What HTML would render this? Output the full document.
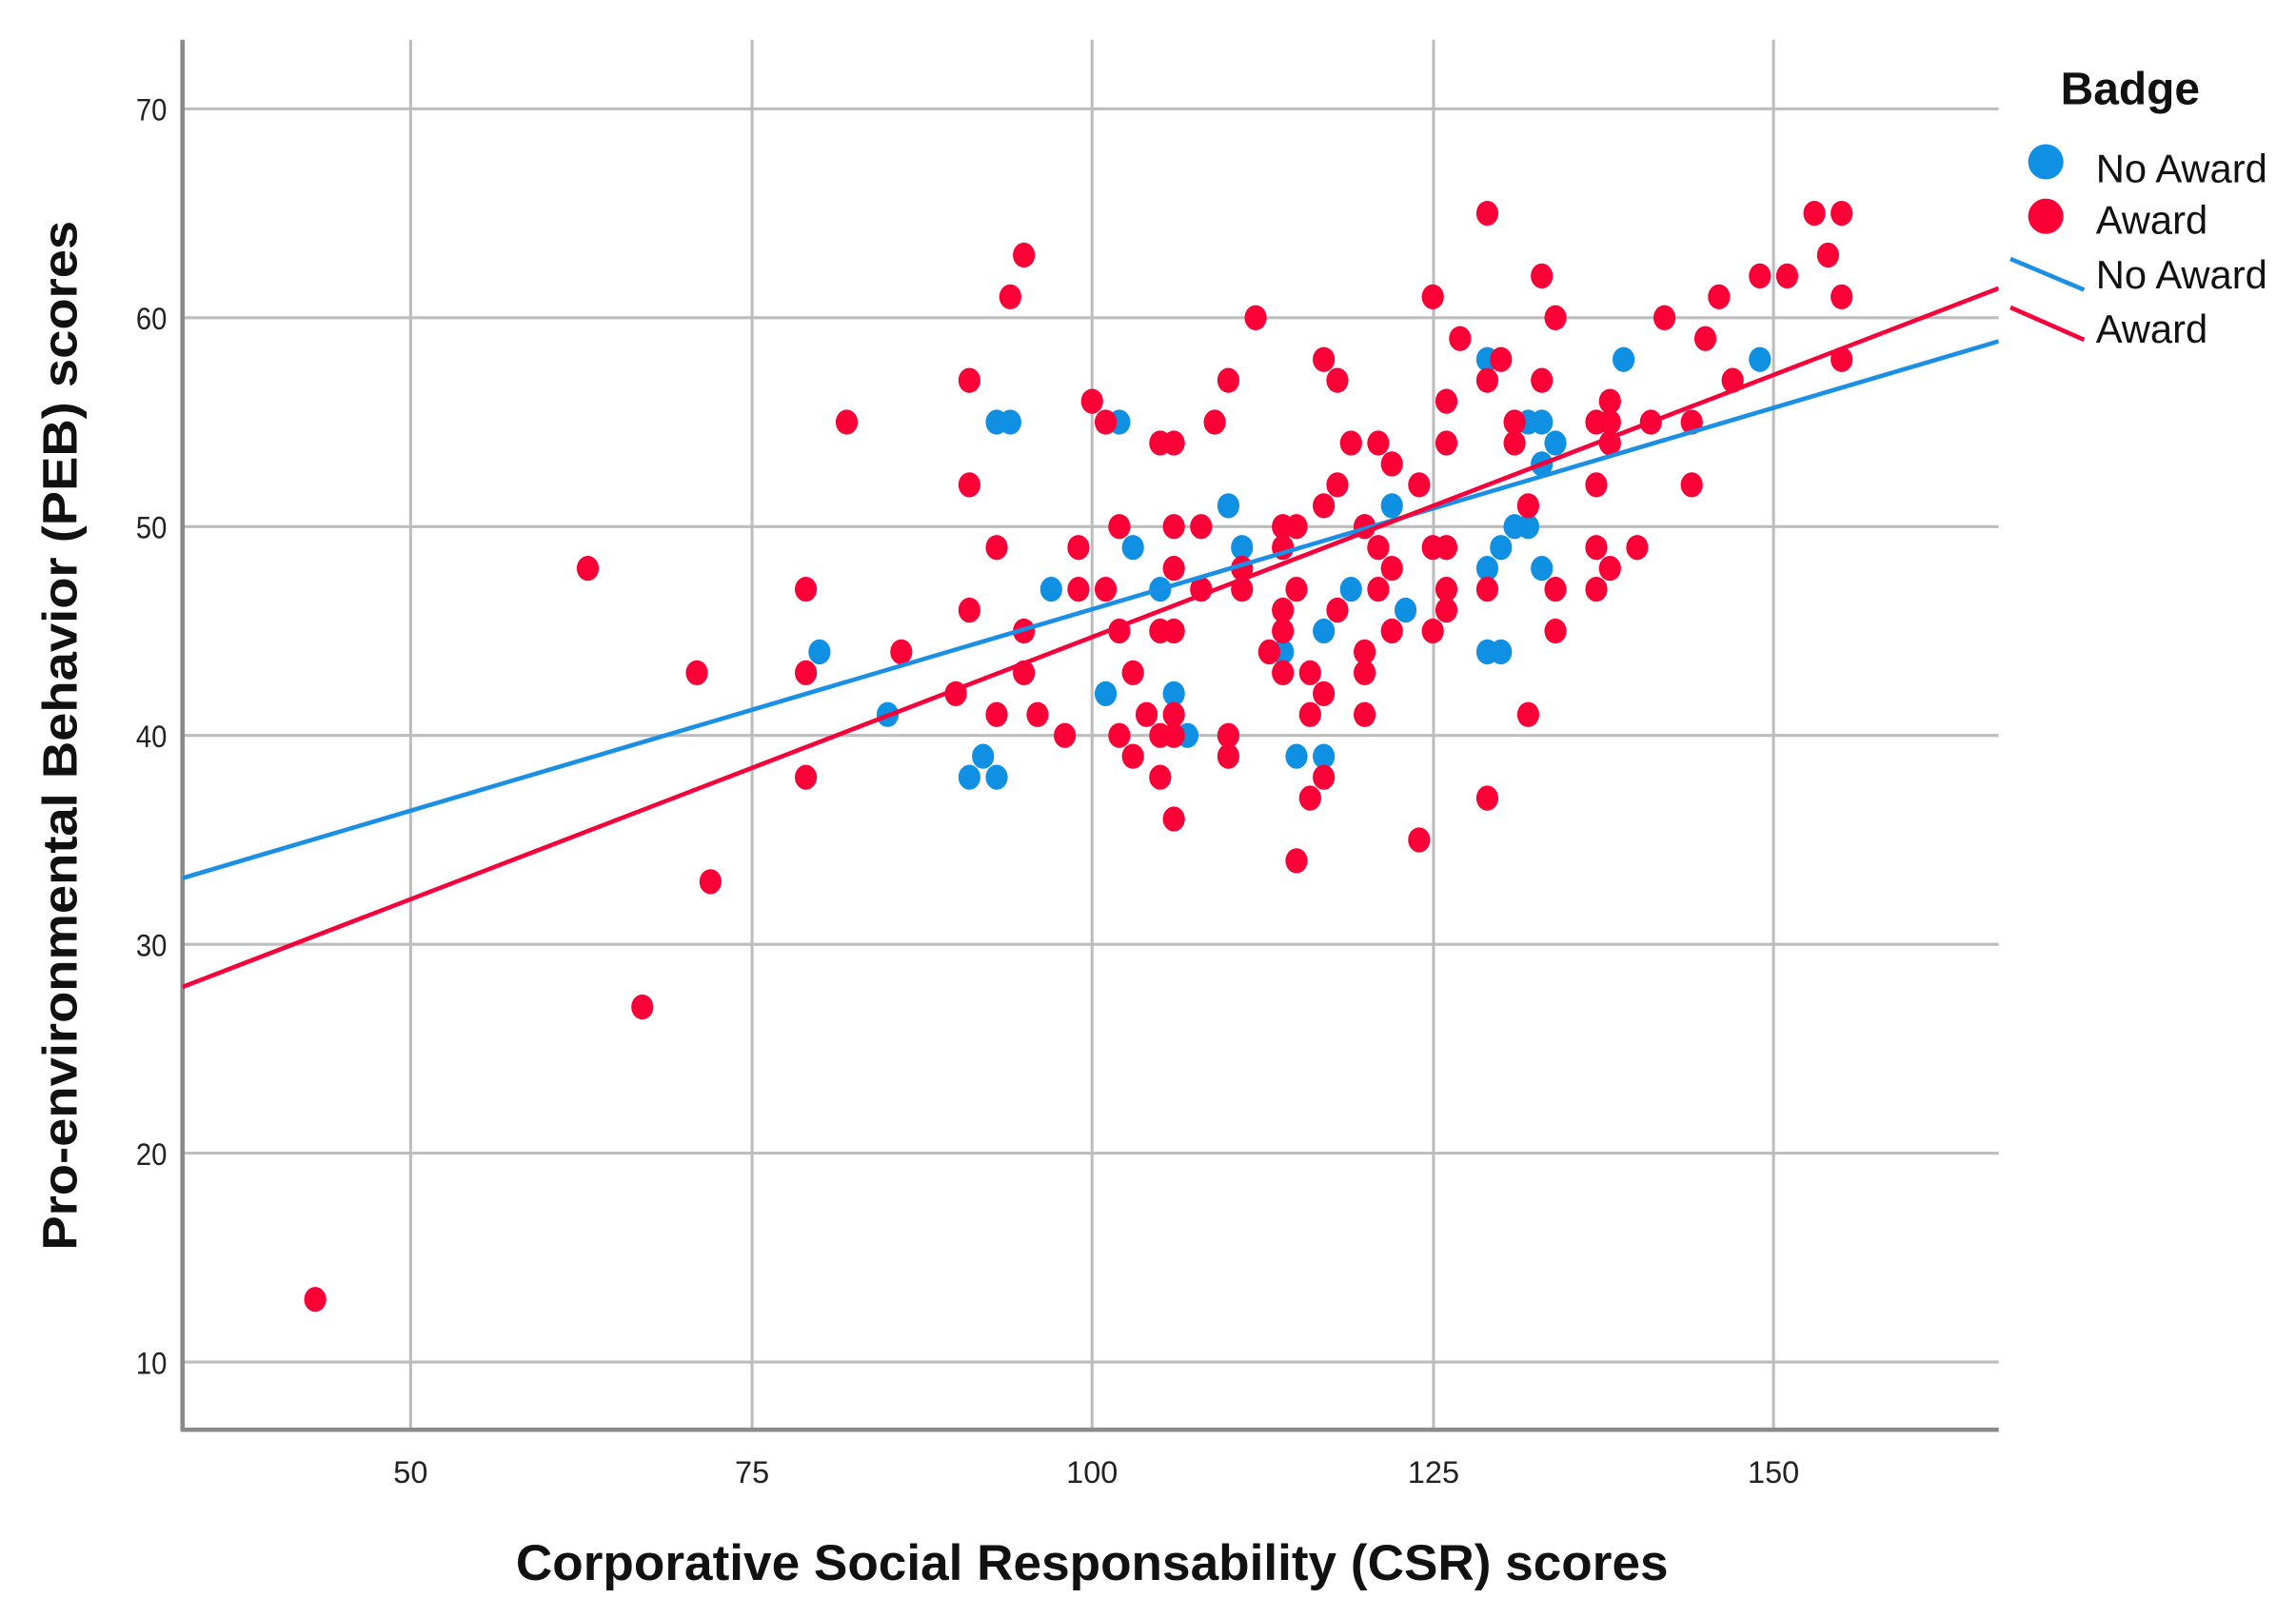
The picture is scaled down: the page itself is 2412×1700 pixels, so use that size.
<!DOCTYPE html>
<html><head><meta charset="utf-8"><style>
html,body{margin:0;padding:0;background:#fff;}
svg{display:block;}
text{font-family:"Liberation Sans",Arial,sans-serif;}
</style></head><body>
<svg id="s" width="2412" height="1700" viewBox="0 0 1560 1100" preserveAspectRatio="none" xmlns="http://www.w3.org/2000/svg">
<defs><clipPath id="c"><rect x="124" y="27" width="1234" height="945"/></clipPath></defs>
<g stroke="#bdbdbd" stroke-width="2">
<line x1="279" y1="27" x2="279" y2="972"/><line x1="511" y1="27" x2="511" y2="972"/>
<line x1="742" y1="27" x2="742" y2="972"/><line x1="974" y1="27" x2="974" y2="972"/>
<line x1="1205" y1="27" x2="1205" y2="972"/>
<line x1="124" y1="74" x2="1358" y2="74"/><line x1="124" y1="216" x2="1358" y2="216"/>
<line x1="124" y1="358" x2="1358" y2="358"/><line x1="124" y1="500" x2="1358" y2="500"/>
<line x1="124" y1="642" x2="1358" y2="642"/><line x1="124" y1="784" x2="1358" y2="784"/>
<line x1="124" y1="926" x2="1358" y2="926"/>
</g>
<g stroke="#8a8a8a" stroke-width="3"><line x1="124" y1="27" x2="124" y2="973"/><line x1="123" y1="972" x2="1358" y2="972"/></g>
<g font-size="21" fill="#222" text-anchor="end" transform="scale(0.9,1)">
<text x="126" y="82">70</text><text x="126" y="224">60</text><text x="126" y="366">50</text>
<text x="126" y="508">40</text><text x="126" y="650">30</text><text x="126" y="792">20</text><text x="126" y="934">10</text>
</g>
<g font-size="21" fill="#222" text-anchor="middle">
<text x="279" y="1008">50</text><text x="511" y="1008">75</text><text x="742" y="1008">100</text>
<text x="974" y="1008">125</text><text x="1205" y="1008">150</text>
</g>
<text x="742" y="1074" font-size="34" font-weight="bold" text-anchor="middle" fill="#111" textLength="783" lengthAdjust="spacingAndGlyphs">Corporative Social Responsability (CSR) scores</text>
<text transform="translate(52,500) rotate(-90)" font-size="33" font-weight="bold" text-anchor="middle" fill="#111" textLength="700" lengthAdjust="spacingAndGlyphs">Pro-environmental Behavior  (PEB) scores</text>
<g id="pts" clip-path="url(#c)"></g>
<g clip-path="url(#c)">
<line x1="124" y1="597" x2="1358" y2="232" stroke="#1a8fe3" stroke-width="3"/>
<line x1="124" y1="671" x2="1358" y2="196" stroke="#f5003a" stroke-width="3"/>
</g>
<text x="1400" y="71" font-size="31" font-weight="bold" fill="#111">Badge</text>
<circle cx="1390" cy="110" r="12" fill="#0f90e2"/>
<circle cx="1390" cy="147" r="12" fill="#fa0036"/>
<line x1="1366" y1="176" x2="1416" y2="197" stroke="#1a8fe3" stroke-width="3"/>
<line x1="1366" y1="209" x2="1416" y2="231" stroke="#f5003a" stroke-width="3"/>
<g font-size="27" fill="#111">
<text x="1424" y="124">No Award</text><text x="1424" y="159">Award</text>
<text x="1424" y="196">No Award</text><text x="1424" y="233">Award</text>
</g>
</svg>
<script>
var red=[[43,13],[63,48],[67,27],[71,43],[72,33],[79,47],[79,43],[79,38],[82,55],[86,44],[90,42],[91,57],[91,52],[91,46],[93,49],[93,41],[94,61],[95,63],[95,45],[95,43],[96,41],[98,40],[99,49],[99,47],[100,56],[101,55],[101,47],[102,50],[102,45],[102,40],[103,43],[103,39],[104,41],[105,54],[105,45],[105,40],[105,38],[106,54],[106,50],[106,48],[106,45],[106,41],[106,40],[106,36],[108,50],[108,47],[109,55],[110,57],[110,40],[110,39],[111,48],[111,47],[112,60],[113,44],[114,50],[114,49],[114,46],[114,45],[114,43],[115,50],[115,47],[115,34],[116,43],[116,41],[116,37],[117,58],[117,51],[117,42],[117,38],[118,57],[118,52],[118,46],[119,54],[120,50],[120,44],[120,43],[120,41],[121,54],[121,49],[121,47],[122,53],[122,48],[122,45],[124,52],[124,35],[125,61],[125,49],[125,45],[126,56],[126,54],[126,49],[126,47],[126,46],[127,59],[129,65],[129,57],[129,47],[129,37],[130,58],[131,55],[131,54],[132,51],[132,41],[133,62],[133,57],[134,60],[134,47],[134,45],[137,55],[137,52],[137,49],[137,47],[138,56],[138,55],[138,54],[138,48],[140,49],[141,55],[142,60],[144,55],[144,52],[145,59],[146,61],[147,57],[149,62],[151,62],[153,65],[154,63],[155,65],[155,61],[155,58]];
var blue=[[80,44],[85,41],[91,38],[92,39],[93,55],[93,38],[94,55],[97,47],[101,42],[102,55],[103,49],[105,47],[106,42],[107,40],[110,51],[111,49],[114,44],[115,39],[117,45],[117,39],[119,47],[120,50],[122,51],[123,46],[129,58],[129,48],[129,44],[130,49],[130,44],[131,50],[132,55],[132,50],[133,55],[133,53],[133,48],[134,54],[139,58],[149,58]];
var g=document.getElementById('pts'),ns='http://www.w3.org/2000/svg';
function add(a,col){a.forEach(function(p){var c=document.createElementNS(ns,'ellipse');c.setAttribute('cx',279+(p[0]-50)*9.26);c.setAttribute('cy',926-(p[1]-10)*14.2);c.setAttribute('rx',7.5);c.setAttribute('ry',8.5);c.setAttribute('fill',col);g.appendChild(c);});}
add(blue,'#0f90e2');add(red,'#fa0036');
</script>
</body></html>
